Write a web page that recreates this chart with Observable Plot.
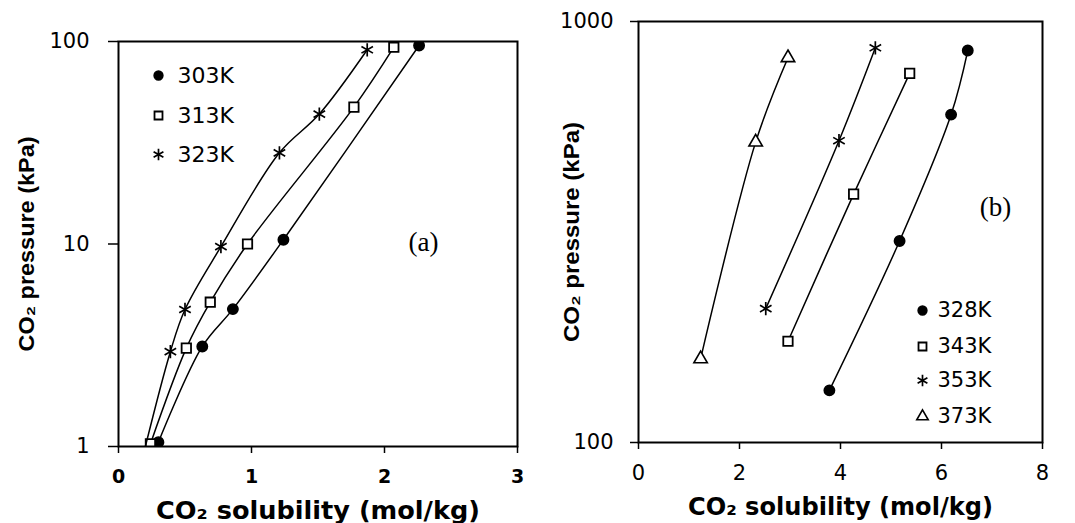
<!DOCTYPE html>
<html><head><meta charset="utf-8">
<script src="https://cdn.jsdelivr.net/npm/d3@7"></script>
<script src="https://cdn.jsdelivr.net/npm/@observablehq/plot@0.6"></script>
<style>
body{margin:0;background:#fff;}
#wrap{position:relative;width:1075px;height:523px;background:#fff;}
#a{position:absolute;left:0;top:0}
#b{position:absolute;left:530px;top:0}
#a g[aria-label="x-axis tick label"] text{font-weight:bold;font-size:19px;font-family:"DejaVu Sans";}
#b g[aria-label="x-axis tick label"] text{font-size:21px;font-family:"DejaVu Sans";}
g[aria-label="y-axis tick label"] text{font-size:21px;font-family:"DejaVu Sans";}
</style></head><body><div id="wrap"><div id="a"></div><div id="b"></div></div>
<script>
// ---------- Panel (a) data ----------
const xTicksA = [0, 1, 2, 3];
const yTicksA = [1, 10, 100];
const sol303 = [0.30, 0.63, 0.86, 1.24, 2.26];
const p303   = [1.05, 3.12, 4.77, 10.5, 95.5];
const sol313 = [0.24, 0.51, 0.69, 0.97, 1.77, 2.07];
const p313   = [1.03, 3.06, 5.16, 10.0, 47.4, 93.7];
const sol323 = [0.19, 0.39, 0.50, 0.77, 1.21, 1.51, 1.87];
const p323   = [0.93, 2.94, 4.75, 9.7, 28.2, 43.8, 91];
const legendA = ["303K", "313K", "323K"];

// ---------- Panel (b) data ----------
const xTicksB = [0, 2, 4, 6, 8];
const yTicksB = [100, 1000];
const sol328 = [3.78, 5.17, 6.19, 6.52];
const p328   = [133, 301, 601, 853];
const sol343 = [2.96, 4.26, 5.37];
const p343   = [174, 389, 753];
const sol353 = [2.52, 3.97, 4.69];
const p353   = [208, 521, 866];
const sol373 = [1.23, 2.32, 2.96];
const p373   = [158, 517, 820];
const legendB = ["328K", "343K", "353K", "373K"];

const xTitle = "CO₂ solubility (mol/kg)";
const yTitle = "CO₂ pressure (kPa)";

const rows = (xs, ys) => xs.map((x, i) => ({x, y: ys[i]}));

const styleOf = {
  circle:   {symbol: "circle",   fill: "black", stroke: "black", r: 5.2},
  square:   {symbol: "square",   fill: "white", stroke: "black", strokeWidth: 1.8, r: 5.3},
  asterisk: {symbol: "asterisk", fill: "none",  stroke: "black", strokeWidth: 1.7, r: 6.3},
  triangle: {symbol: "triangle", fill: "white", stroke: "black", strokeWidth: 1.6, r: 5}
};

function series(xs, ys, kind) {
  const d = rows(xs, ys);
  return [
    Plot.line(d, {x: "x", y: "y", curve: "catmull-rom", stroke: "black", strokeWidth: 1.5, clip: true}),
    Plot.dot(d, {x: "x", y: "y", clip: true, ...styleOf[kind]})
  ];
}

function legendMarks(labels, kinds, dxMark, dxText, dys, fontSize, scale) {
  const out = [];
  labels.forEach((lab, i) => {
    const s = {...styleOf[kinds[i]]};
    s.r = s.r * scale;
    out.push(Plot.dot([lab], {frameAnchor: "top-left", dx: dxMark, dy: dys[i], ...s}));
    out.push(Plot.text([lab], {frameAnchor: "top-left", dx: dxText, dy: dys[i], text: d => d,
      textAnchor: "start", lineAnchor: "middle", fontSize, fill: "black", fontFamily: "DejaVu Sans"}));
  });
  return out;
}

function fitTitles(svg, xLen, yLen) {
  d3.select(svg).selectAll("text").each(function() {
    if (this.textContent === xTitle) {
      this.setAttribute("textLength", xLen);
      this.setAttribute("lengthAdjust", "spacingAndGlyphs");
    } else if (this.textContent === yTitle) {
      this.setAttribute("textLength", yLen);
      this.setAttribute("lengthAdjust", "spacingAndGlyphs");
    }
  });
}

// ---------- Panel (a) ----------
const plotA = Plot.plot({
  width: 530, height: 523,
  marginLeft: 118, marginRight: 13, marginTop: 41, marginBottom: 77,
  style: {fontFamily: "DejaVu Sans", background: "white", color: "black"},
  x: {domain: [0, 3]},
  y: {type: "log", domain: [1, 100]},
  marks: [
    ...series(sol303, p303, "circle"),
    ...series(sol313, p313, "square"),
    ...series(sol323, p323, "asterisk"),
    Plot.frame({stroke: "black", strokeWidth: 2}),
    Plot.axisX({ticks: xTicksA, tickSize: 7, tickPadding: 16, strokeWidth: 1.5,
      tickFormat: d => String(d), label: null}),
    Plot.axisY({ticks: yTicksA, tickSize: 10, tickPadding: 19, strokeWidth: 1.5,
      tickFormat: d => String(d), label: null}),
    Plot.text([xTitle], {frameAnchor: "bottom", dy: 64, text: d => d, lineAnchor: "middle",
      fontSize: 25, fontWeight: "bold", fontFamily: "DejaVu Sans", fill: "black"}),
    Plot.text([yTitle], {frameAnchor: "left", dx: -92, rotate: -90, text: d => d, lineAnchor: "middle",
      textAnchor: "middle", fontSize: 22, fontWeight: "bold", fontFamily: "Liberation Sans", fill: "black"}),
    Plot.text(["(a)"], {frameAnchor: "top-left", dx: 305, dy: 201, text: d => d,
      textAnchor: "middle", lineAnchor: "middle",
      fontSize: 27, fontFamily: "Liberation Serif", fill: "black"}),
    ...legendMarks(legendA, ["circle", "square", "asterisk"], 40, 59, [34, 74, 113], 22, 0.85)
  ]
});
fitTitles(plotA, 324, 215);
document.getElementById("a").append(plotA);

// ---------- Panel (b) ----------
const plotB = Plot.plot({
  width: 545, height: 523,
  marginLeft: 108, marginRight: 33, marginTop: 21, marginBottom: 81,
  style: {fontFamily: "DejaVu Sans", background: "white", color: "black"},
  x: {domain: [0, 8]},
  y: {type: "log", domain: [100, 1000]},
  marks: [
    ...series(sol328, p328, "circle"),
    ...series(sol343, p343, "square"),
    ...series(sol353, p353, "asterisk"),
    ...series(sol373, p373, "triangle"),
    Plot.frame({stroke: "black", strokeWidth: 2}),
    Plot.axisX({ticks: xTicksB, tickSize: 7, tickPadding: 16, strokeWidth: 1.5,
      tickFormat: d => String(d), label: null}),
    Plot.axisY({ticks: yTicksB, tickSize: 8, tickPadding: 17, strokeWidth: 1.5,
      tickFormat: d => String(d), label: null}),
    Plot.text([xTitle], {frameAnchor: "bottom", dy: 65, text: d => d, lineAnchor: "middle",
      fontSize: 24, fontWeight: "bold", fontFamily: "DejaVu Sans", fill: "black"}),
    Plot.text([yTitle], {frameAnchor: "left", dx: -67, rotate: -90, text: d => d, lineAnchor: "middle",
      textAnchor: "middle", fontSize: 22, fontWeight: "bold", fontFamily: "Liberation Sans", fill: "black"}),
    Plot.text(["(b)"], {frameAnchor: "top-left", dx: 357, dy: 186, text: d => d,
      textAnchor: "middle", lineAnchor: "middle",
      fontSize: 27, fontFamily: "Liberation Serif", fill: "black"}),
    ...legendMarks(legendB, ["circle", "square", "asterisk", "triangle"], 284, 299, [289, 325, 359, 395], 21, 0.85)
  ]
});
fitTitles(plotB, 305, 220);
document.getElementById("b").append(plotB);
</script>
</body></html>
